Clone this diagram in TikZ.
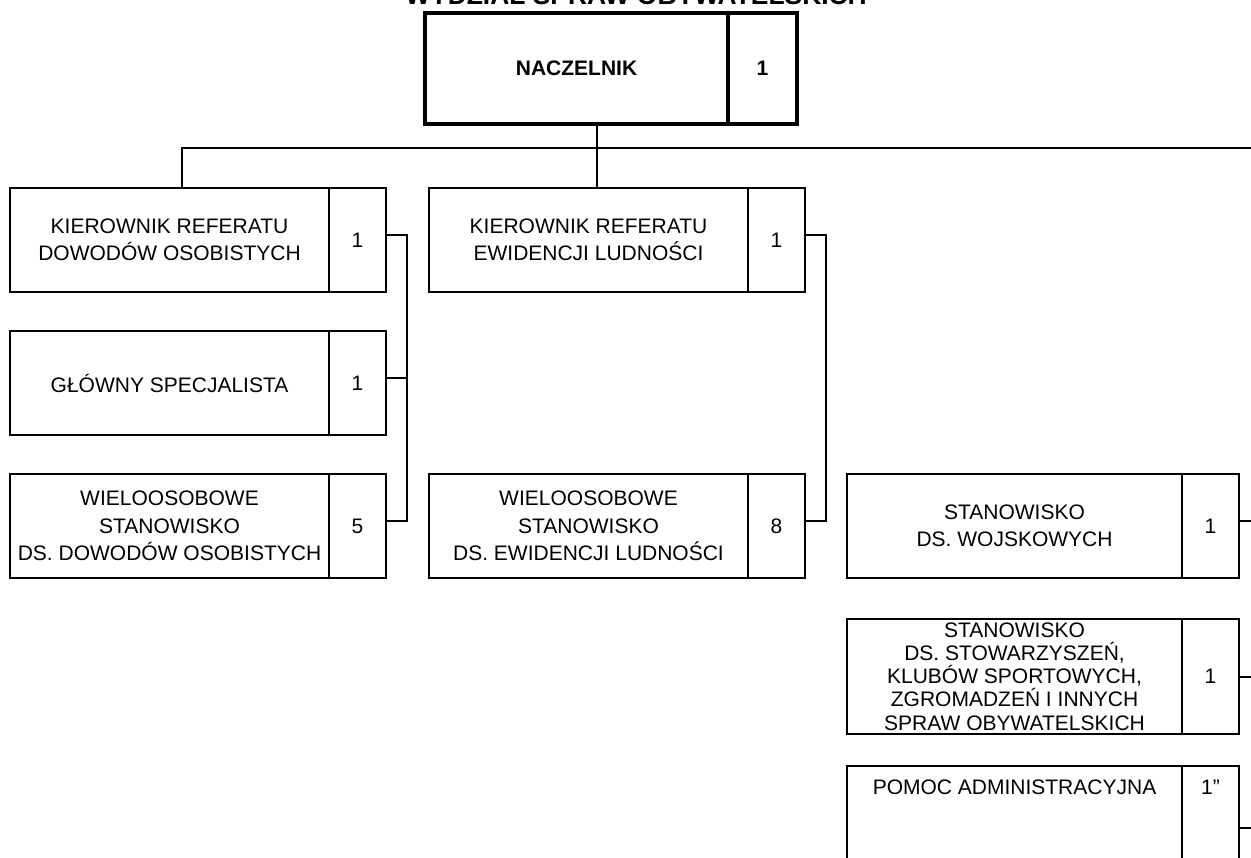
\documentclass[tikz,border=0pt]{standalone}
\usepackage{fontspec}
\setmainfont{Liberation Sans}
\usetikzlibrary{positioning}
\begin{document}
\begin{tikzpicture}[x=0.5pt,y=-0.5pt,line width=1pt,
    post/.style={draw,rectangle,align=center,inner sep=0pt,outer sep=0pt,
      minimum width=159.5pt,minimum height=52pt,
      font=\fontsize{10.5}{13.75}\selectfont},
    num/.style={post,minimum width=28.5pt},
    rpost/.style={post,minimum width=167.5pt},
    chief/.style={post,line width=1.75pt,minimum width=151.5pt,
      minimum height=55.5pt,font=\bfseries\fontsize{10.5}{13.75}\selectfont},
    top/.style={minimum height=0pt,text height=14.25pt,text depth=47.75pt}]
  \useasboundingbox (0,0) rectangle (1251,857);
  \node (title) [anchor=base,font=\bfseries\fontsize{13.2}{15}\selectfont]
    at (636,4) {WYDZIAŁ SPRAW OBYWATELSKICH};
  \node (nacz) [chief,anchor=north west] at (425,13) {NACZELNIK};
  \node (naczNr) [chief,minimum width=34.5pt,right=0pt of nacz] {1};
  % first row
  \node (kdo) [post,anchor=north west] at (10,188) {KIEROWNIK REFERATU\\DOWODÓW OSOBISTYCH};
  \node (kdoNr) [num,right=0pt of kdo] {1};
  \node (kel) [post,right=21.5pt of kdoNr] {KIEROWNIK REFERATU\\EWIDENCJI LUDNOŚCI};
  \node (kelNr) [num,right=0pt of kel] {1};
  % second row
  \node (spec) [post,below=19.5pt of kdo] {GŁÓWNY SPECJALISTA};
  \node (specNr) [num,right=0pt of spec] {1};
  % third row
  \node (wdo) [post,below=19.5pt of spec] {WIELOOSOBOWE\\STANOWISKO\\DS. DOWODÓW OSOBISTYCH};
  \node (wdoNr) [num,right=0pt of wdo] {5};
  \node (wel) [post,right=21.5pt of wdoNr] {WIELOOSOBOWE\\STANOWISKO\\DS. EWIDENCJI LUDNOŚCI};
  \node (welNr) [num,right=0pt of wel] {8};
  \node (woj) [rpost,right=21pt of welNr] {STANOWISKO\\DS. WOJSKOWYCH};
  \node (wojNr) [num,right=0pt of woj] {1};
  % right column
  \node (sto) [rpost,below=20.5pt of woj,minimum height=57.5pt,
    font=\fontsize{10.5}{11.6}\selectfont]
    {STANOWISKO\\DS. STOWARZYSZEŃ,\\KLUBÓW SPORTOWYCH,\\ZGROMADZEŃ I INNYCH\\SPRAW OBYWATELSKICH};
  \node (stoNr) [num,right=0pt of sto,minimum height=57.5pt] {1};
  \node (pom) [rpost,top,below=16pt of sto] {POMOC ADMINISTRACYJNA};
  \node (pomNr) [num,top,right=0pt of pom] {1”};
  % connectors
  \coordinate (busL) at (182,148);
  \coordinate (busM) at (597,148);
  \coordinate (busR) at (1262,148);
  \draw (busM |- nacz.south) -- (busM |- kel.north);
  \draw (busL |- kdo.north) -- (busL) -- (busR) |- (pomNr.east);
  \draw ([yshift=2.5pt]kdoNr.east) -- ++(10.5pt,0) coordinate (grpL) |- ([yshift=2.5pt]wdoNr.east);
  \draw ([yshift=2.5pt]specNr.east) -- ([yshift=2.5pt]specNr.east -| grpL);
  \draw ([yshift=2.5pt]kelNr.east) -- ++(10.5pt,0) |- ([yshift=2.5pt]welNr.east);
  \draw ([yshift=2.5pt]wojNr.east) -- ([yshift=2.5pt]wojNr.east -| busR);
  \draw (stoNr.east) -- (stoNr.east -| busR);
\end{tikzpicture}
\end{document}
